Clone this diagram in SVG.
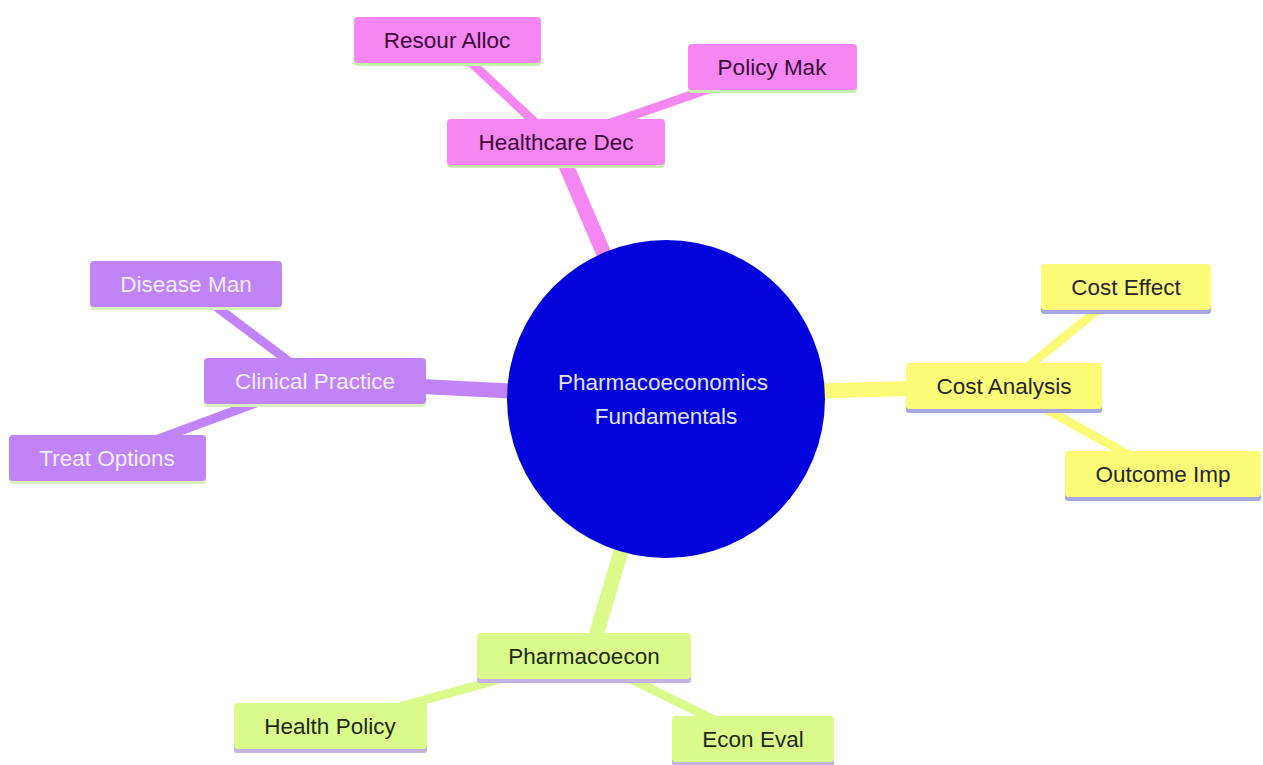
<svg xmlns="http://www.w3.org/2000/svg" width="1263" height="765" viewBox="0 0 1263 765">
<style>
text{font-family:"Liberation Sans",Arial,sans-serif;font-size:22.5px;text-anchor:middle;dominant-baseline:central}
.pk rect.b{fill:#f686f2}.pk rect.u{fill:#c8f0b0}.pk text{fill:#3a0838}
.pu rect.b{fill:#c084f8}.pu rect.u{fill:#d8f0c0}.pu text{fill:#f4ecff}
.ye rect.b{fill:#fbfb78}.ye rect.u{fill:#a8a8e0}.ye text{fill:#262626}
.gr rect.b{fill:#dbfa8c}.gr rect.u{fill:#c4b4e4}.gr text{fill:#1e2a10}
.e1{stroke-width:15;stroke-linecap:butt;fill:none}
.e2{stroke-width:9;stroke-linecap:butt;fill:none}
</style>
<rect width="1263" height="765" fill="#ffffff"/>
<g id="connectors">
<line class="e1" x1="666" y1="399" x2="556" y2="142" stroke="#f686f2"/>
<line class="e2" x1="556" y1="142" x2="447" y2="40" stroke="#f686f2"/>
<line class="e2" x1="556" y1="142" x2="772" y2="67" stroke="#f686f2"/>
<line class="e1" x1="666" y1="399" x2="315" y2="381" stroke="#c084f8"/>
<line class="e2" x1="315" y1="381" x2="186" y2="284" stroke="#c084f8"/>
<line class="e2" x1="315" y1="381" x2="107" y2="458" stroke="#c084f8"/>
<line class="e1" x1="666" y1="395" x2="1004" y2="386" stroke="#fbfb78"/>
<line class="e2" x1="1004" y1="386" x2="1126" y2="287" stroke="#fbfb78"/>
<line class="e2" x1="1004" y1="386" x2="1163" y2="474" stroke="#fbfb78"/>
<line class="e1" x1="666" y1="399" x2="590" y2="656" stroke="#dbfa8c"/>
<line class="e2" x1="584" y1="656" x2="330" y2="726" stroke="#dbfa8c"/>
<line class="e2" x1="584" y1="656" x2="753" y2="739" stroke="#dbfa8c"/>
</g>
<g id="root">
<circle cx="666" cy="399" r="159" fill="#0303dc"/>
<text x="663" y="382" fill="#e4e4f4">Pharmacoeconomics</text>
<text x="666" y="416" fill="#e4e4f4">Fundamentals</text>
</g>
<g id="healthcare-dec" class="pk">
<rect class="u" x="447" y="121" width="218" height="47" rx="4"/>
<rect class="b" x="447" y="119" width="218" height="46" rx="4"/>
<text x="556" y="142">Healthcare Dec</text>
</g>
<g id="resour-alloc" class="pk">
<rect class="u" x="354" y="19" width="187" height="47" rx="4"/>
<rect class="b" x="354" y="17" width="187" height="46" rx="4"/>
<text x="447" y="40">Resour Alloc</text>
</g>
<g id="policy-mak" class="pk">
<rect class="u" x="688" y="46" width="169" height="47" rx="4"/>
<rect class="b" x="688" y="44" width="169" height="46" rx="4"/>
<text x="772" y="67">Policy Mak</text>
</g>
<g id="clinical-practice" class="pu">
<rect class="u" x="204" y="360" width="222" height="47" rx="4"/>
<rect class="b" x="204" y="358" width="222" height="46" rx="4"/>
<text x="315" y="381">Clinical Practice</text>
</g>
<g id="disease-man" class="pu">
<rect class="u" x="90" y="263" width="192" height="47" rx="4"/>
<rect class="b" x="90" y="261" width="192" height="46" rx="4"/>
<text x="186" y="284">Disease Man</text>
</g>
<g id="treat-options" class="pu">
<rect class="u" x="9" y="437" width="197" height="47" rx="4"/>
<rect class="b" x="9" y="435" width="197" height="46" rx="4"/>
<text x="107" y="458">Treat Options</text>
</g>
<g id="cost-analysis" class="ye">
<rect class="u" x="906" y="366" width="196" height="47" rx="3"/>
<rect class="b" x="906" y="363" width="196" height="46" rx="4"/>
<text x="1004" y="386">Cost Analysis</text>
</g>
<g id="cost-effect" class="ye">
<rect class="u" x="1041" y="267" width="170" height="47" rx="3"/>
<rect class="b" x="1041" y="264" width="170" height="46" rx="4"/>
<text x="1126" y="287">Cost Effect</text>
</g>
<g id="outcome-imp" class="ye">
<rect class="u" x="1065" y="454" width="196" height="47" rx="3"/>
<rect class="b" x="1065" y="451" width="196" height="46" rx="4"/>
<text x="1163" y="474">Outcome Imp</text>
</g>
<g id="pharmacoecon" class="gr">
<rect class="u" x="477" y="636" width="214" height="47" rx="3"/>
<rect class="b" x="477" y="633" width="214" height="46" rx="4"/>
<text x="584" y="656">Pharmacoecon</text>
</g>
<g id="health-policy" class="gr">
<rect class="u" x="234" y="706" width="193" height="47" rx="3"/>
<rect class="b" x="234" y="703" width="193" height="46" rx="4"/>
<text x="330" y="726">Health Policy</text>
</g>
<g id="econ-eval" class="gr">
<rect class="u" x="672" y="719" width="162" height="47" rx="3"/>
<rect class="b" x="672" y="716" width="162" height="46" rx="4"/>
<text x="753" y="739">Econ Eval</text>
</g>
</svg>
